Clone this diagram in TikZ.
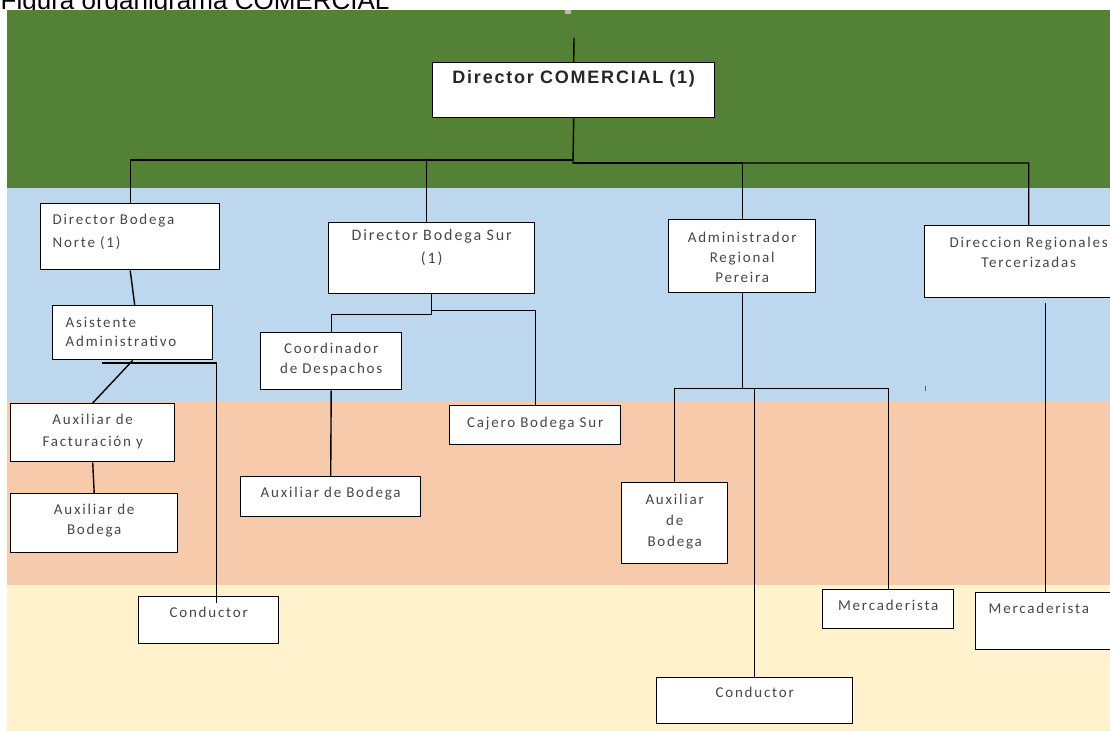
\documentclass[tikz,border=0pt]{standalone}
\usepackage{fontspec}
\setmainfont{Carlito}
\newfontfamily\cajafont[LetterSpace=12]{Carlito}
\newfontfamily\jefefont[LetterSpace=10]{Liberation Sans}
\newfontfamily\titfont{Liberation Sans}
\definecolor{verdeband}{HTML}{538135}
\definecolor{azulband}{HTML}{BDD7EE}
\definecolor{naranjaband}{HTML}{F7CAAC}
\definecolor{amarilloband}{HTML}{FFF2CC}
\definecolor{gristexto}{HTML}{474747}

\begin{document}
\begin{tikzpicture}[x=1pt,y=-1pt,line width=1.4pt,
    caja/.style={draw,fill=white,anchor=north west,inner sep=0pt,align=center,text=gristexto},
    izq/.style={align=left,inner xsep=12pt},
    renglon/.style={font=\cajafont\fontsize{15}{#1}\selectfont}]
    \useasboundingbox (0,0) rectangle (1110,731);
    \clip (0,0) rectangle (1110,731);

    % titulo cortado arriba
    \node[anchor=base west,inner sep=0pt,font=\titfont\fontsize{26}{30}\selectfont] (titulo) at (0,9) {Figura organigrama COMERCIAL};

    % franjas de fondo
    \fill[verdeband] (7,10) rectangle (1110,188);
    \fill[azulband] (7,188) rectangle (1110,402);
    \fill[naranjaband] (7,402) rectangle (1110,585);
    \fill[amarilloband] (7,585) rectangle (1110,731);
    \fill[gray!55] (565,10) rectangle (571,14);
    \fill[blue!55!cyan] (924.5,386) rectangle (925.5,391);

    % cajas
    \node[caja,text width=282pt,text height=21pt,text depth=34pt,text=black!85,
        font=\jefefont\bfseries\fontsize{18}{20}\selectfont] (dcom) at (432,62) {Director COMERCIAL (1)};

    \node[caja,izq,text width=155pt,text height=21pt,text depth=45pt,renglon=23] (dnorte) at (40,203) {Director Bodega\\Norte (1)};
    \node[caja,izq,inner xsep=13pt,text width=134pt,text height=22pt,text depth=32pt,renglon=19] (asis) at (52,305) {Asistente\\Administrativo};
    \node[caja,text width=164pt,text height=21pt,text depth=37pt,renglon=22] (afact) at (10,403) {Auxiliar de\\Facturación y};
    \node[caja,text width=167pt,text height=21pt,text depth=38pt,renglon=20] (abodn) at (10,493) {Auxiliar de\\Bodega};
    \node[caja,text width=140pt,text height=21pt,text depth=26pt,renglon=20] (cond1) at (138,596) {Conductor};

    \node[caja,text width=206pt,text height=18pt,text depth=53pt,font=\cajafont\fontsize{16}{23}\selectfont] (dsur) at (328,222) {Director Bodega Sur\\(1)};
    \node[caja,text width=141pt,text height=21pt,text depth=36pt,renglon=20] (coord) at (260,332) {Coordinador\\de Despachos};
    \node[caja,text width=171pt,text height=22pt,text depth=17pt,renglon=20] (cajero) at (449,405) {Cajero Bodega Sur};
    \node[caja,text width=180pt,text height=21pt,text depth=19pt,renglon=20] (abodm) at (240,476) {Auxiliar de Bodega};

    \node[caja,text width=147pt,text height=23pt,text depth=50pt,renglon=20] (admin) at (668,219) {Administrador\\Regional\\Pereira};
    \node[caja,text width=106pt,text height=22pt,text depth=59pt,renglon=21] (abodr) at (621,482) {Auxiliar\\de\\Bodega};
    \node[caja,text width=196pt,text height=20pt,text depth=26pt,renglon=20] (cond2) at (656,677) {Conductor};
    \node[caja,text width=131pt,text height=21pt,text depth=18pt,renglon=20] (merc1) at (822,589) {Mercaderista};

    \node[caja,text width=208pt,text height=22pt,text depth=50pt,renglon=20] (dreg) at (924,225) {Direccion Regionales\\Tercerizadas};
    \node[caja,izq,inner xsep=13pt,text width=124pt,text height=21pt,text depth=36pt,renglon=20] (merc2) at (975,592) {Mercaderista};

    % conectores
    \coordinate (arriba) at (574,38);
    \coordinate (busizq) at (573,160);
    \coordinate (busder) at (573,163);
    \coordinate (asisbase) at (102,363);

    \draw (arriba) -- (dcom.north);
    \draw (dcom.south) -- (busder) -| (dreg.north);
    \draw (busizq) -| (dnorte.north);
    \draw (busizq) -| ([xshift=-5pt]dsur.north);
    \draw (busder) -| (admin.north);

    \path[draw]
        (dnorte.south) edge ([xshift=2pt]asis.north)
        (asis.south) edge (afact.north)
        (afact.south) edge (abodn.north)
        (coord.south) edge (abodm.north)
    ;
    \draw (asisbase) -| ([xshift=8pt,yshift=-7pt]cond1.north);

    \draw (dsur.south) -- ++(0,20) -| (coord.north);
    \draw (dsur.south) -- ++(0,16) -| (cajero.north);

    \draw (admin.south) -- ++(0,95) coordinate (busadm);
    \draw (abodr.north) |- (busadm) -| (merc1.north);
    \draw (cond2.north) -- (cond2.north |- busadm);

    \draw ([xshift=-5pt]merc2.north) -- ++(0,-289);
\end{tikzpicture}
\end{document}
